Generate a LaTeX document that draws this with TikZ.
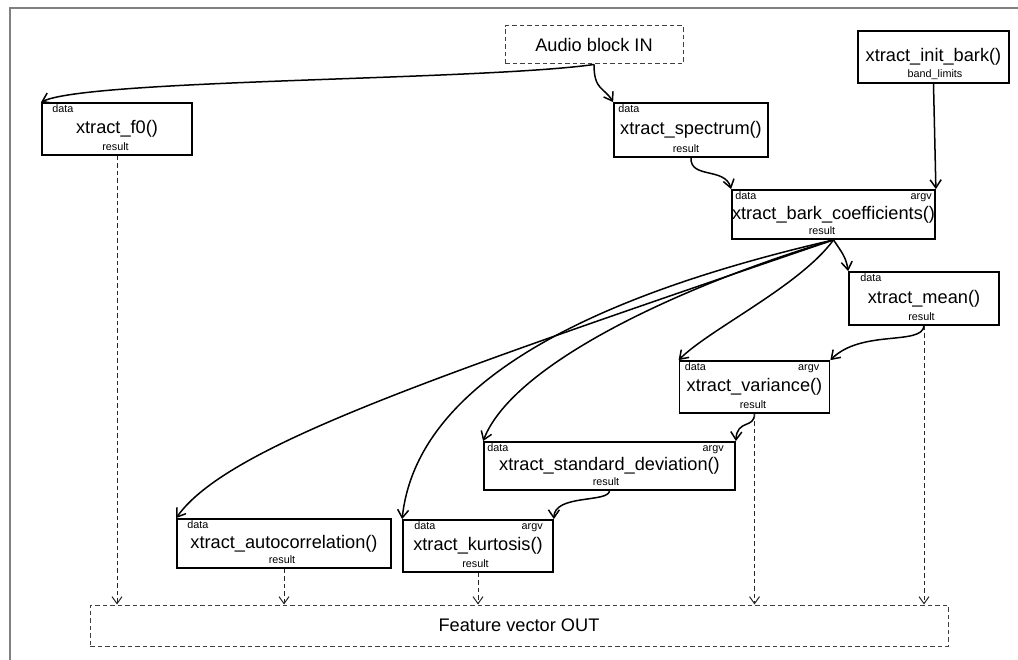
\documentclass[tikz,border=0pt]{standalone}
\usepackage{fontspec}
\setmainfont{Liberation Sans}
\usetikzlibrary{arrows.meta}

\begin{document}
\begin{tikzpicture}[x=1pt,y=-1pt,
	func/.style={draw, line width=1.8pt, inner sep=0pt, font=\fontsize{18.2}{21}\selectfont},
	port/.style={inner sep=0pt, font=\fontsize{10.8}{12}\selectfont},
	io/.style={draw=black!75, line width=1pt, dash pattern=on 4.5pt off 3pt, inner sep=0pt, font=\fontsize{18.2}{21}\selectfont},
	flow/.style={line width=1.5pt, -{Straight Barb[length=8pt,width=11pt]}},
	feed/.style={line width=1pt, black!85, dash pattern=on 4.5pt off 3pt, -{Straight Barb[length=7pt,width=10pt]}}]
	
	\useasboundingbox (0,0) rectangle (1018,660);
	\draw [line width=2pt, color=black!50](10,660)--(10,8)--(1018,8);
	
	% in and out
	\node[io, minimum width=178pt, minimum height=38pt] (in) at (594,45) {Audio block IN};
	\node[io, minimum width=858pt, minimum height=41pt] (out) at (519,625.5) {Feature vector OUT};
	
	% extractors
	\node[func, minimum width=150pt, minimum height=52pt] (f0) at (117,129) {xtract\_f0()};
	\node[port, anchor=base west] (f0d) at ([xshift=11pt,yshift=-10.5pt]f0.north west) {data};
	\node[port, anchor=base] (f0r) at ([xshift=-1.5pt,yshift=5.5pt]f0.south) {result};
	
	\node[func, minimum width=154pt, minimum height=54pt] (spec) at (691,130) {xtract\_spectrum()};
	\node[port, anchor=base west] (specd) at ([xshift=5pt,yshift=-10.5pt]spec.north west) {data};
	\node[port, anchor=base] (specr) at ([xshift=-5pt,yshift=5.5pt]spec.south) {result};
	
	\node[func, minimum width=151pt, minimum height=52pt] (ib) at (933.5,57) {xtract\_init\_bark()};
	\node[port, anchor=base] (ibr) at ([xshift=1.5pt,yshift=6pt]ib.south) {band\_limits};
	
	\node[func, minimum width=201pt, minimum height=49pt] (bark) at (833.5,214.5) {xtract\_bark\_coefficients()};
	\node[port, anchor=base west] (barkd) at ([xshift=4pt,yshift=-10.5pt]bark.north west) {data};
	\node[port, anchor=base east] (barka) at ([xshift=-4pt,yshift=-10.5pt]bark.north east) {argv};
	\node[port, anchor=base] (barkr) at ([xshift=-11.5pt,yshift=5.5pt]bark.south) {result};
	
	\node[func, minimum width=150pt, minimum height=53pt] (mean) at (924,298.5) {xtract\_mean()};
	\node[port, anchor=base west] (meand) at ([xshift=12pt,yshift=-10.5pt]mean.north west) {data};
	\node[port, anchor=base] (meanr) at ([xshift=-2.5pt,yshift=5.5pt]mean.south) {result};
	
	\node[func, minimum width=150pt, minimum height=52pt] (var) at (754.5,387) {xtract\_variance()};
	\node[port, anchor=base west] (vard) at ([xshift=6pt,yshift=-10.5pt]var.north west) {data};
	\node[port, anchor=base east] (vara) at ([xshift=-11pt,yshift=-10.5pt]var.north east) {argv};
	\node[port, anchor=base] (varr) at ([xshift=-1.5pt,yshift=5.5pt]var.south) {result};
	
	\node[func, minimum width=251pt, minimum height=48pt] (std) at (609.5,466) {xtract\_standard\_deviation()};
	\node[port, anchor=base west] (stdd) at ([xshift=4pt,yshift=-10pt]std.north west) {data};
	\node[port, anchor=base east] (stda) at ([xshift=-12pt,yshift=-10pt]std.north east) {argv};
	\node[port, anchor=base] (stdr) at ([xshift=-3.5pt,yshift=5pt]std.south) {result};
	
	\node[func, minimum width=214pt, minimum height=49pt] (ac) at (284,543.5) {xtract\_autocorrelation()};
	\node[port, anchor=base west] (acd) at ([xshift=11pt,yshift=-10.5pt]ac.north west) {data};
	\node[port, anchor=base] (acr) at ([xshift=-2pt,yshift=5pt]ac.south) {result};
	
	\node[func, minimum width=150pt, minimum height=52pt] (ku) at (478,546) {xtract\_kurtosis()};
	\node[port, anchor=base west] (kud) at ([xshift=12pt,yshift=-10.5pt]ku.north west) {data};
	\node[port, anchor=base east] (kua) at ([xshift=-11pt,yshift=-10.5pt]ku.north east) {argv};
	\node[port, anchor=base] (kur) at ([xshift=-2.5pt,yshift=5.5pt]ku.south) {result};
	
	% data flow
	\draw [flow](in.south) .. controls +(-114,16) and +(48,-23) .. (f0.north west);
	\draw [flow](in.south) .. controls +(0,26) and +(-9,-15) .. (spec.north west);
	\draw [flow](spec.south) .. controls +(-1,21) and +(-6,-22) .. (bark.north west);
	\draw [flow](ib.south) -- (bark.north east);
	
	\draw [flow](bark.south) .. controls +(8,12) and +(-2,-14) .. (mean.north west);
	\draw [flow](bark.south) .. controls +(-33.5,46) and +(31,-31) .. (var.north west);
	\draw [flow](bark.south) .. controls +(-150,45) and +(30,-78) .. (std.north west);
	\draw [flow](bark.south) .. controls +(-260,60) and +(14,-130) .. (ku.north west);
	\draw [flow](bark.south) .. controls +(-400.5,137) and +(51,-72) .. (ac.north west);
	
	\draw [flow](mean.south) .. controls +(-2,20) and +(31,-31) .. (var.north east);
	\draw [flow](var.south) .. controls +(0,15) and +(1,-22) .. (std.north east);
	\draw [flow](std.south) .. controls +(-1,12) and +(0,-25) .. (ku.north east);
	
	% results out
	\draw [feed](f0.south) -- (f0.south |- out.north);
	\draw [feed](ac.south) -- (ac.south |- out.north);
	\draw [feed](ku.south) -- (ku.south |- out.north);
	\draw [feed](var.south) -- (var.south |- out.north);
	\draw [feed](mean.south) -- (mean.south |- out.north);
	
\end{tikzpicture}
\end{document}
